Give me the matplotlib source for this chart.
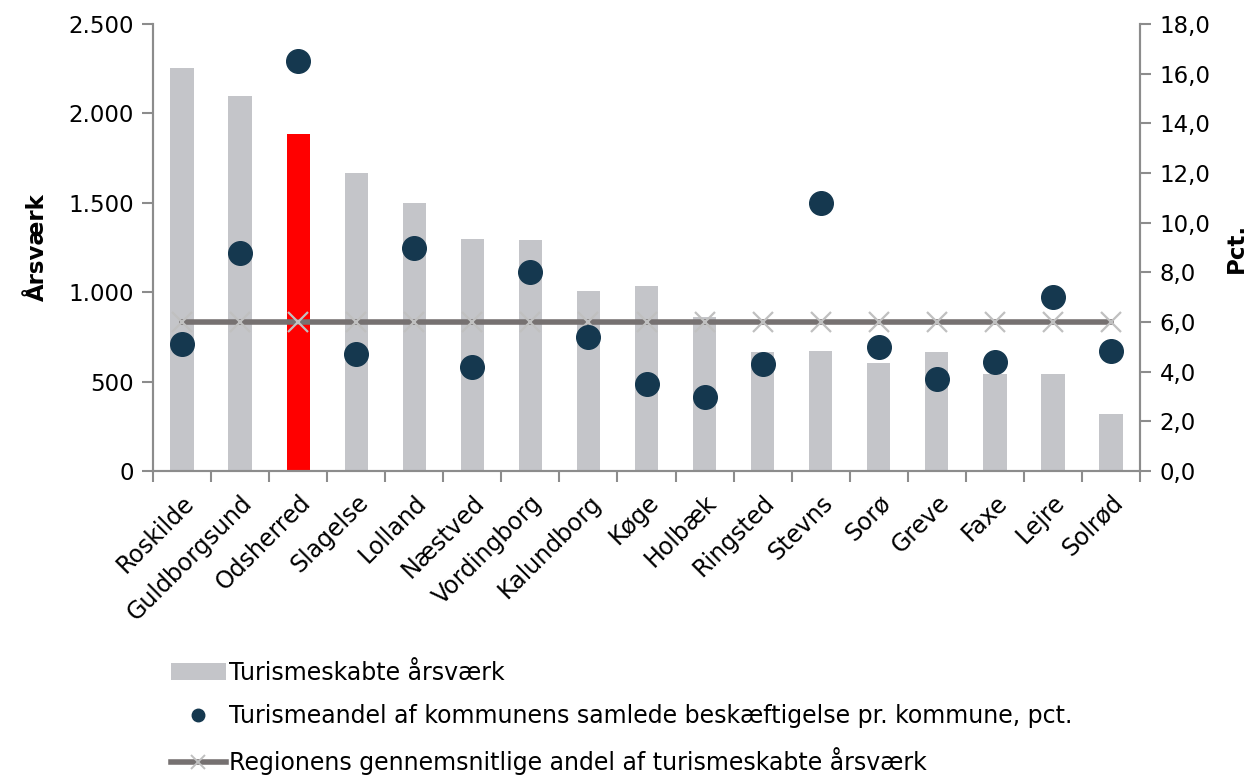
import numpy as np
import matplotlib.pyplot as plt
from matplotlib.ticker import FuncFormatter
from matplotlib.lines import Line2D
from matplotlib.patches import Patch

kommuner = ["Roskilde", "Guldborgsund", "Odsherred", "Slagelse", "Lolland",
            "Næstved", "Vordingborg", "Kalundborg", "Køge", "Holbæk",
            "Ringsted", "Stevns", "Sorø", "Greve", "Faxe", "Lejre", "Solrød"]
aarsvaerk = [2255, 2095, 1885, 1667, 1499, 1298, 1292, 1008, 1035, 863,
             666, 673, 606, 667, 542, 542, 319]
andel = [5.1, 8.8, 16.5, 4.7, 9.0, 4.2, 8.0, 5.4, 3.5, 3.0,
         4.3, 10.8, 5.0, 3.7, 4.4, 7.0, 4.85]
region_snit = 6.0
fremhaev = "Odsherred"

bar_col = "#C4C5C9"
red = "#FF0000"
navy = "#15384F"
line_col = "#767171"
mark_col = "#C0C0C0"
axis_col = "#8C8C8C"

plt.rcParams['font.family'] = ['DejaVu Sans']

fig = plt.figure(figsize=(12.45, 7.76), dpi=100)
ax = fig.add_axes([0.1229, 0.393, 0.7928, 0.576])
ax2 = ax.twinx()

x = np.arange(len(kommuner))
colors = [red if k == fremhaev else bar_col for k in kommuner]
ax.bar(x, aarsvaerk, width=0.4, color=colors, zorder=1)

ax2.plot(x, [region_snit] * len(x), color=line_col, lw=4, zorder=2,
         marker="x", markersize=15, markeredgecolor=mark_col, markeredgewidth=1.6)
ax2.plot(x, andel, linestyle="none", marker="o", markersize=17,
         color=navy, zorder=3)

ax.set_xlim(-0.5, len(x) - 0.5)
ax.set_ylim(0, 2500)
ax2.set_ylim(0, 18)
ax.set_yticks(np.arange(0, 2501, 500))
ax2.set_yticks(np.arange(0, 18.1, 2))

ax.yaxis.set_major_formatter(FuncFormatter(lambda v, p: f"{v:,.0f}".replace(",", ".")))
ax2.yaxis.set_major_formatter(FuncFormatter(lambda v, p: f"{v:.1f}".replace(".", ",")))

ax.set_xticks(x)
ax.set_xticklabels(kommuner, rotation=45, ha="right", rotation_mode="anchor", fontsize=17)
ax.set_xticks(np.arange(-0.5, len(x), 1), minor=True)
ax.tick_params(axis="x", which="major", length=0, pad=14)
ax.tick_params(axis="x", which="minor", length=8, color=axis_col, width=1.5)
ax.tick_params(axis="y", labelsize=16.5, length=8, color=axis_col, width=1.5, pad=6)
ax2.tick_params(axis="y", labelsize=16.5, length=8, color=axis_col, width=1.5, pad=6)

for a in (ax, ax2):
    a.spines["top"].set_visible(False)
    for s in ("left", "right", "bottom"):
        a.spines[s].set_color(axis_col)
        a.spines[s].set_linewidth(1.5)

ax.set_ylabel("Årsværk", fontsize=16.5, fontweight="bold", labelpad=14)
ax2.set_ylabel("Pct.", fontsize=16.5, fontweight="bold", labelpad=10)

handles = [
    Patch(facecolor=bar_col, edgecolor="none"),
    Line2D([], [], linestyle="none", marker="o", markersize=9, color=navy),
    Line2D([], [], color=line_col, lw=4, marker="x", markersize=10,
           markeredgecolor=mark_col, markeredgewidth=1.4),
]
labels = ["Turismeskabte årsværk",
          "Turismeandel af kommunens samlede beskæftigelse pr. kommune, pct.",
          "Regionens gennemsnitlige andel af turismeskabte årsværk"]
fig.legend(handles, labels, loc="upper left", bbox_to_anchor=(0.13, 0.161),
           frameon=False, fontsize=17, handlelength=2.3, handletextpad=0.15,
           labelspacing=0.82, borderaxespad=0)

fig.savefig("out.png", dpi=100)
